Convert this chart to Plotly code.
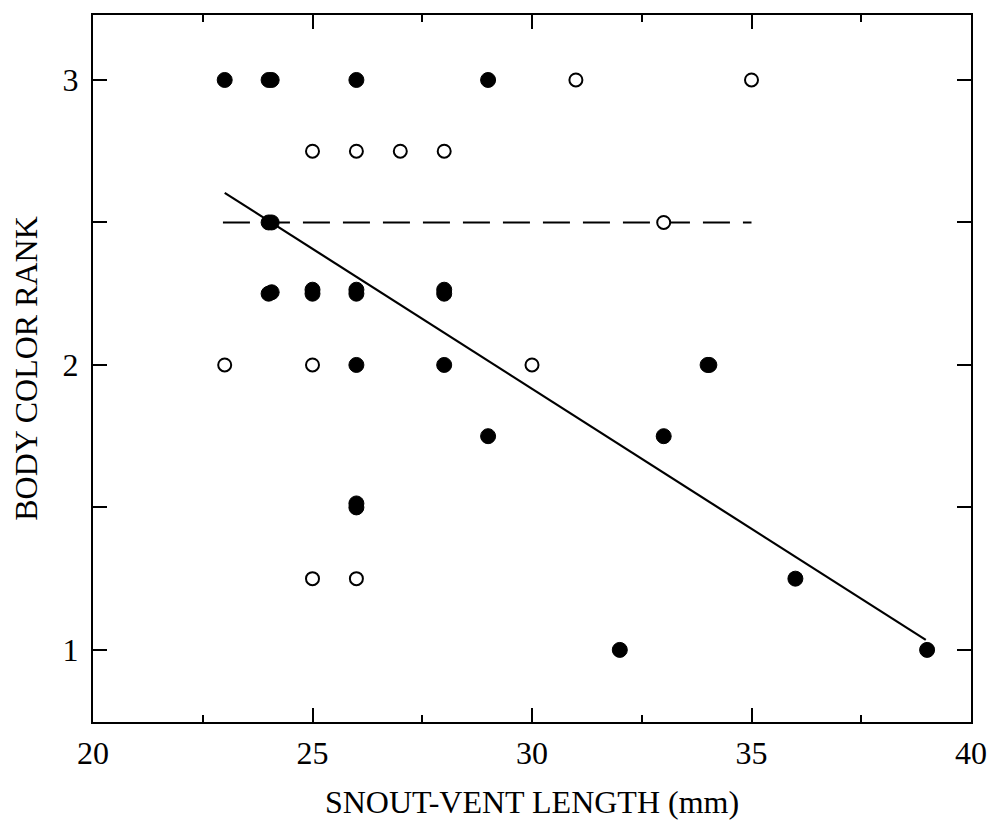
import plotly.graph_objects as go

# Filled symbols (duplicates drawn as slightly offset overlapping dots)
filled_x = [23, 24, 24.07, 26, 29,
            24, 24.07,
            24, 24.07, 25, 25, 26, 26, 28, 28,
            26, 28, 34, 34.04,
            29, 33,
            26, 26,
            36,
            32, 39]
filled_y = [3, 3, 3, 3, 3,
            2.5, 2.5,
            2.25, 2.255, 2.25, 2.264, 2.25, 2.264, 2.25, 2.264,
            2, 2, 2, 2,
            1.75, 1.75,
            1.5, 1.514,
            1.25,
            1, 1]

# Open symbols
open_x = [31, 35, 25, 26, 27, 28, 33, 23, 25, 30, 25, 26]
open_y = [3, 3, 2.75, 2.75, 2.75, 2.75, 2.5, 2, 2, 2, 1.25, 1.25]

# Regression line (solid) and reference line (dashed)
reg_x = [23, 38.97]
reg_y = [2.604, 1.035]
ref_x = [22.96, 35]
ref_y = [2.5, 2.5]

x_ticks = [20, 25, 30, 35, 40]
y_ticks = [1, 2, 3]

FONT = "Liberation Serif"

fig = go.Figure()
fig.add_trace(go.Scatter(x=ref_x, y=ref_y, mode="lines",
                         line=dict(color="black", width=2, dash="27px,13px"),
                         showlegend=False, hoverinfo="skip"))
fig.add_trace(go.Scatter(x=reg_x, y=reg_y, mode="lines",
                         line=dict(color="black", width=2.2),
                         showlegend=False, hoverinfo="skip"))
fig.add_trace(go.Scatter(x=open_x, y=open_y, mode="markers",
                         marker=dict(symbol="circle", size=13, color="white",
                                     line=dict(color="black", width=2)),
                         showlegend=False))
fig.add_trace(go.Scatter(x=filled_x, y=filled_y, mode="markers",
                         marker=dict(symbol="circle", size=15, color="black",
                                     line=dict(color="black", width=1)),
                         showlegend=False))

fig.update_layout(
    width=987, height=812,
    margin=dict(l=85, r=24, t=7, b=98),
    paper_bgcolor="white", plot_bgcolor="white",
    font=dict(family=FONT, color="black", size=32),
)
fig.update_xaxes(
    automargin=False,
    range=[20, 40], tickmode="array", tickvals=x_ticks,
    ticktext=[str(v) for v in x_ticks],
    ticks="inside", ticklen=14, tickwidth=2, tickcolor="black",
    minor=dict(dtick=2.5, tick0=20, ticks="inside", ticklen=7, tickwidth=2,
               tickcolor="black", showgrid=False),
    showline=True, linewidth=2, linecolor="black", mirror="ticks",
    showgrid=False, zeroline=False,
    tickfont=dict(family=FONT, size=32), ticklabelstandoff=2,
    title=dict(text="SNOUT-VENT LENGTH (mm)", font=dict(family=FONT, size=32),
               standoff=22),
)
fig.update_yaxes(
    automargin=False,
    range=[0.747, 3.228], tickmode="array", tickvals=y_ticks,
    ticktext=[str(v) for v in y_ticks],
    ticks="inside", ticklen=14, tickwidth=2, tickcolor="black",
    minor=dict(dtick=0.5, tick0=1, ticks="inside", ticklen=14, tickwidth=2,
               tickcolor="black", showgrid=False),
    showline=True, linewidth=2, linecolor="black", mirror="ticks",
    showgrid=False, zeroline=False,
    tickfont=dict(family=FONT, size=32), ticklabelstandoff=6,
    title=dict(text="BODY COLOR RANK", font=dict(family=FONT, size=32),
               standoff=20),
)

fig.write_html("out.html")
